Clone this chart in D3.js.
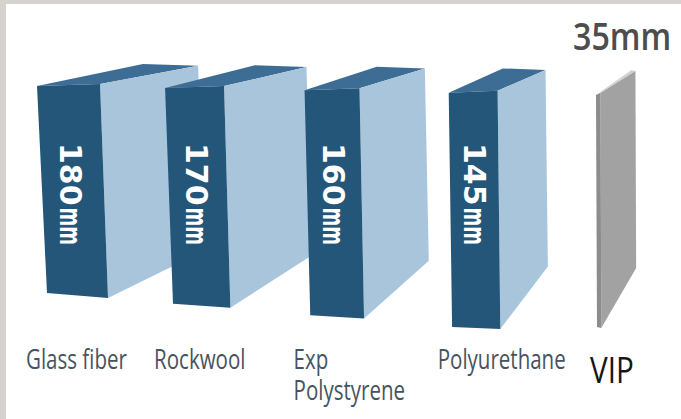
<!DOCTYPE html>
<html>
<head>
<meta charset="utf-8">
<script src="https://cdn.jsdelivr.net/npm/d3@7"></script>
<style>
  html, body { margin: 0; padding: 0; background: #fff; }
  svg { display: block; }
</style>
</head>
<body>
<svg id="chart" width="681" height="419"></svg>
<script>
// Insulation materials and the panel thickness each needs for the same insulating value
const materials = ["Glass fiber", "Rockwool", "Exp Polystyrene", "Polyurethane", "VIP"];
const labelLines = [["Glass fiber"], ["Rockwool"], ["Exp", "Polystyrene"], ["Polyurethane"], ["VIP"]];
const thicknessMm = [180, 170, 160, 145, 35];
const unit = "mm";

const W = 681, H = 419;
const svg = d3.select("#chart");

// frame
svg.append("rect").attr("width", W).attr("height", H).attr("fill", "#d6d3ce");
svg.append("rect").attr("x", 6).attr("y", 4).attr("width", W - 6).attr("height", H - 4).attr("fill", "#ffffff");

const n = materials.length;
const idx = d3.range(n);

// horizontal slot of each panel (spacing widens slightly to the right)
const slotX = d3.scalePow().exponent(1.063).domain([0, n - 1]).range([37, 596]);
// visible edge width of a panel grows with its thickness
const faceW = d3.scaleLinear().domain([35, 180]).range([4.5, 63]);
// perspective helpers, all driven by horizontal position
const faceTop = d3.scaleLinear().domain([37, 596]).range([86, 95]);
const faceBottom = d3.scaleLinear().domain([37, 444]).range([293, 327]).clamp(true);
const lean = d3.scaleLinear().domain([37, 596]).range([10, 1]);
const drop = d3.scaleLinear().domain([37, 596]).range([5, 1]);
const depth = d3.scaleLinear().domain([37, 600]).range([106, 35]);
const backTop = d3.scaleLinear().domain([37, 600]).range([64, 70]);
const backBottom = d3.scaleLinear().domain([100, 540]).range([250, 268]).clamp(true);

const isVip = i => i === n - 1;
const palette = {
  front: i => isVip(i) ? "#8c8c8c" : "#245679",
  side:  i => isVip(i) ? "#a2a2a2" : "#a9c5dc",
  top:   i => isVip(i) ? "#d2d2d2" : "#3d6d94"
};

function geometry(i) {
  const x0 = slotX(i), w = faceW(thicknessMm[i]);
  const tl = [x0, faceTop(x0)];
  const tr = [x0 + w, faceTop(x0) - 2];
  const bl = [x0 + lean(x0), faceBottom(x0)];
  const br = [x0 + w + lean(x0) * 0.8, faceBottom(x0) + drop(x0)];
  const btl = [tl[0] + depth(tl[0]), backTop(tl[0])];
  const btr = [tr[0] + depth(tr[0]), backTop(tr[0]) + 1];
  const bbr = [br[0] + depth(br[0]), backBottom(br[0])];
  return { x0, w, tl, tr, bl, br, btl, btr, bbr };
}

const line = d3.line();
const blocks = svg.append("g").selectAll("g").data(idx).join("g");

blocks.each(function (i) {
  const g = d3.select(this);
  const p = geometry(i);
  g.append("path").attr("d", line([p.tl, p.btl, p.btr, p.tr]) + "Z").attr("fill", palette.top(i));
  g.append("path").attr("d", line([p.tr, p.btr, p.bbr, p.br]) + "Z").attr("fill", palette.side(i));
  g.append("path").attr("d", line([p.tl, p.tr, p.br, p.bl]) + "Z").attr("fill", palette.front(i));

  if (!isVip(i)) {
    // thickness written down the front edge
    const cx = p.x0 + p.w / 2 + 2;
    const t = g.append("g").attr("transform", `translate(${cx},143) rotate(90)`);
    const num = t.append("text")
      .attr("x", 0).attr("y", 0)
      .attr("dy", "0.36em")
      .attr("font-family", "DejaVu Sans")
      .attr("font-weight", "bold")
      .attr("font-size", 30)
      .attr("fill", "#ffffff")
      .text(thicknessMm[i]);
    const len = num.node().getComputedTextLength();
    t.append("text")
      .attr("transform", "scale(0.6,1)")
      .attr("x", (len + 2) / 0.6).attr("y", 0)
      .attr("dy", "0.36em")
      .attr("font-family", "DejaVu Sans")
      .attr("font-weight", "bold")
      .attr("font-size", 30)
      .attr("fill", "#ffffff")
      .text(unit);
  }
});

// value label above the thin panel
const vipG = geometry(n - 1);
svg.append("text")
  .attr("transform", `translate(${vipG.x0 - 23},50) scale(0.87,1)`)
  .attr("font-family", "Open Sans")
  .attr("font-weight", 600)
  .attr("font-size", 37)
  .attr("fill", "#4d4d4d")
  .text(thicknessMm[n - 1] + unit);

// category names, one text per line
const labels = svg.append("g").selectAll("g").data(idx).join("g")
  .attr("transform", i => `translate(${slotX(i) - (isVip(i) ? 6 : 11)},${isVip(i) ? 383 : 369}) scale(${isVip(i) ? 0.8 : 0.76},1)`);

labels.selectAll("text").data(i => labelLines[i].map(s => ({ s, vip: isVip(i) }))).join("text")
  .attr("x", 0)
  .attr("y", (d, j) => j * 31)
  .attr("font-family", "Open Sans")
  .attr("font-weight", d => d.vip ? 400 : 500)
  .attr("font-size", d => d.vip ? 37 : 27)
  .attr("fill", d => d.vip ? "#161616" : "#45545f")
  .text(d => d.s);
</script>
</body>
</html>
